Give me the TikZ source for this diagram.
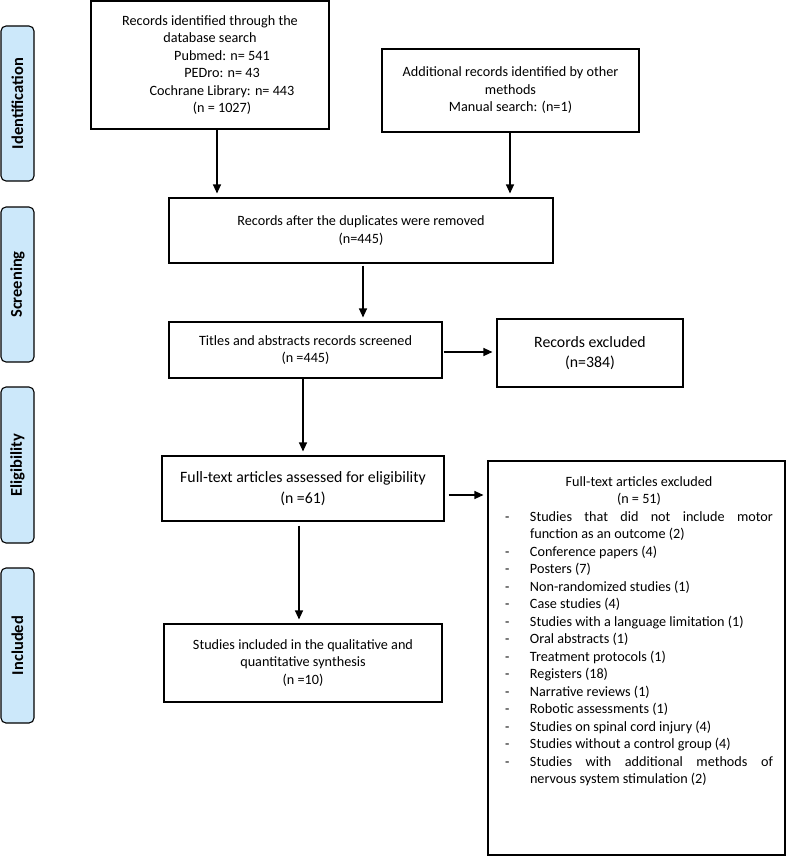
\documentclass[tikz,border=0pt]{standalone}
\usepackage{fontspec}
\setmainfont{Carlito}
\usetikzlibrary{arrows.meta,calc}
\definecolor{sidefill}{HTML}{CCE8FA}
\newcommand\myfA{\fontsize{14.2}{17.5}\selectfont}
\newcommand\myfB{\fontsize{15.8}{20.5}\selectfont}
\newcommand\myfS{\fontsize{16.5}{19}\selectfont\bfseries}
\newcommand\xitem[1]{\par\noindent\hangindent=25pt\hangafter=1\makebox[25pt][l]{-}#1\par}
\begin{document}
\begin{tikzpicture}[x=1pt,y=-1pt,
  pbox/.style={draw=black, line width=1.1pt, align=center, inner sep=0pt, font=\myfA},
  bigbox/.style={pbox, font=\myfB},
  sidelab/.style={draw=black, line width=1.1pt, fill=sidefill, rounded corners=5pt, minimum width=33pt, inner sep=0pt},
  sidetext/.style={rotate=90, font=\myfS, inner sep=0pt},
  arr/.style={line width=1.1pt, -{Triangle[length=9pt,width=8pt]}, shorten >=4pt}
]
\useasboundingbox (0,0) rectangle (787,856);

% side labels
\node[sidelab, minimum height=155pt] (s1) at (17.5,103.5) {};
\node[sidetext] (t1) at (s1.center) {Identification};
\node[sidelab, minimum height=155pt] (s2) at (17.5,284.5) {};
\node[sidetext] (t2) at (s2.center) {Screening};
\node[sidelab, minimum height=156pt] (s3) at (17.5,465) {};
\node[sidetext] (t3) at (s3.center) {Eligibility};
\node[sidelab, minimum height=155pt] (s4) at (17.5,645.5) {};
\node[sidetext] (t4) at (s4.center) {Included};

% boxes
\node[pbox, minimum width=238pt, minimum height=128pt] (b1) at (210,65) {Records identified through the\\database search\\\hspace*{24pt}Pubmed: n= 541\\\hspace*{24pt}PEDro: n= 43\\\hspace*{24pt}Cochrane Library: n= 443\\\hspace*{24pt}(n = 1027)};
\node[pbox, minimum width=257pt, minimum height=83pt] (b2) at (510.5,90.5) {Additional records identified by other\\methods\\Manual search: (n=1)};
\node[pbox, minimum width=384pt, minimum height=65pt] (b3) at (361,230.5) {Records after the duplicates were removed\\(n=445)};
\node[pbox, minimum width=273pt, minimum height=56pt] (b4) at (305.5,350) {Titles and abstracts records screened\\(n =445)};
\node[bigbox, minimum width=186pt, minimum height=68pt] (b5) at (590,353) {Records excluded\\(n=384)};
\node[bigbox, minimum width=282pt, minimum height=65pt] (b6) at (303,488.5) {Full-text articles assessed for eligibility\\(n =61)};
\node[pbox, minimum width=297pt, minimum height=394pt] (b7) at (636.5,658) {};
\node[anchor=north, text width=268pt, align=justify, font=\myfA, inner sep=0pt] (b7t) at (639,476)
  {{\centering Full-text articles excluded\\(n = 51)\par}
   \xitem{Studies that did not include motor\linebreak function as an outcome (2)}
   \xitem{Conference papers (4)}
   \xitem{Posters (7)}
   \xitem{Non-randomized studies (1)}
   \xitem{Case studies (4)}
   \xitem{Studies with a language limitation (1)}
   \xitem{Oral abstracts (1)}
   \xitem{Treatment protocols (1)}
   \xitem{Registers (18)}
   \xitem{Narrative reviews (1)}
   \xitem{Robotic assessments (1)}
   \xitem{Studies on spinal cord injury (4)}
   \xitem{Studies without a control group (4)}
   \xitem{Studies with additional methods of\linebreak nervous system stimulation (2)}};
\node[pbox, minimum width=278pt, minimum height=78pt] (b8) at (303,663) {Studies included in the qualitative and\\quantitative synthesis\\(n =10)};

% connectors
\coordinate (c1) at (217,0);
\coordinate (c2) at (510,0);
\coordinate (c3) at (363,0);
\coordinate (c4) at (0,352);
\coordinate (c5) at (303,0);
\coordinate (c6) at (0,495);
\coordinate (c7) at (299,0);
\draw[arr] (b1.south -| c1) -- (b3.north -| c1);
\draw[arr] (b2.south -| c2) -- (b3.north -| c2);
\draw[arr, shorten <=2pt] (b3.south -| c3) -- (b4.north -| c3);
\draw[arr, shorten <=1pt] (b4.east |- c4) -- (b5.west |- c4);
\draw[arr] (b4.south -| c5) -- (b6.north -| c5);
\draw[arr, shorten <=4pt] (b6.east |- c6) -- (b7.west |- c6);
\draw[arr, shorten <=4pt] (b6.south -| c7) -- (b8.north -| c7);
\end{tikzpicture}
\end{document}
